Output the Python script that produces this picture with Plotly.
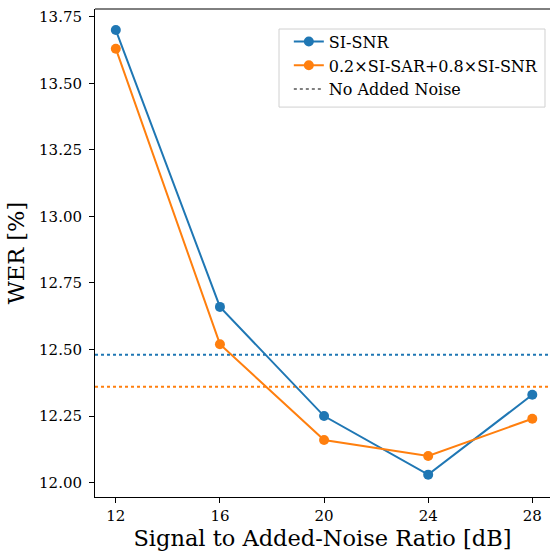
import plotly.graph_objects as go

snr_db = [12, 16, 20, 24, 28]
wer_si_snr = [13.70, 12.66, 12.25, 12.03, 12.33]
wer_mix = [13.63, 12.52, 12.16, 12.10, 12.24]
baseline_si_snr = 12.48
baseline_mix = 12.36
x_ticks = [12, 16, 20, 24, 28]
y_ticks = [12.00, 12.25, 12.50, 12.75, 13.00, 13.25, 13.50, 13.75]

blue = "#1f77b4"
orange = "#ff7f0e"
font_family = "DejaVu Serif"

fig = go.Figure()
fig.add_trace(go.Scatter(x=snr_db, y=wer_si_snr, mode="lines+markers", name="SI-SNR",
                         line=dict(color=blue, width=2), marker=dict(size=10, color=blue)))
fig.add_trace(go.Scatter(x=snr_db, y=wer_mix, mode="lines+markers", name="0.2×SI-SAR+0.8×SI-SNR",
                         line=dict(color=orange, width=2), marker=dict(size=10, color=orange)))
fig.add_trace(go.Scatter(x=[None], y=[None], mode="lines", name="No Added Noise",
                         line=dict(color="gray", width=2, dash="dot")))

for val, col in [(baseline_si_snr, blue), (baseline_mix, orange)]:
    fig.add_shape(type="line", xref="x domain", yref="y", x0=0, x1=1, y0=val, y1=val,
                  line=dict(color=col, width=2, dash="dot"), layer="below")

# legend frame
fig.add_shape(type="rect", xref="paper", yref="paper", x0=0.4044, x1=0.989, y0=0.799, y1=0.959,
              line=dict(color="#d0d0d0", width=1), fillcolor="rgba(255,255,255,0.8)", layer="above")

fig.update_layout(
    width=550, height=551,
    margin=dict(l=95, r=0, t=9, b=54),
    plot_bgcolor="white", paper_bgcolor="white",
    font=dict(family=font_family, color="black", size=15),
    showlegend=True,
    legend=dict(x=0.426, y=0.968, xanchor="left", yanchor="top",
                borderwidth=0, bgcolor="rgba(0,0,0,0)",
                font=dict(size=16, family=font_family), tracegroupgap=0, itemwidth=30),
    xaxis=dict(range=[11.2, 28.68], tickvals=x_ticks, ticktext=[str(v) for v in x_ticks],
               showgrid=False, zeroline=False, showline=True, linecolor="black", linewidth=1,
               mirror=False, ticks="outside", ticklen=5, tickcolor="black",
               title=dict(text="Signal to Added-Noise Ratio [dB]", font=dict(size=22.5), standoff=2)),
    yaxis=dict(range=[11.946, 13.779], tickvals=y_ticks, ticktext=[f"{v:.2f}" for v in y_ticks],
               showgrid=False, zeroline=False, showline=True, linecolor="black", linewidth=1,
               ticks="outside", ticklen=5, tickcolor="black", ticklabelstandoff=4,
               title=dict(text="WER [%]", font=dict(size=22.5), standoff=8)),
)
# top spine
fig.add_shape(type="line", xref="paper", yref="paper", x0=0, x1=1, y0=1, y1=1,
              line=dict(color="black", width=1))

fig.write_html("out.html", config={"displayModeBar": False},
               post_script="document.body.style.margin='0';document.body.style.overflow='hidden';")
